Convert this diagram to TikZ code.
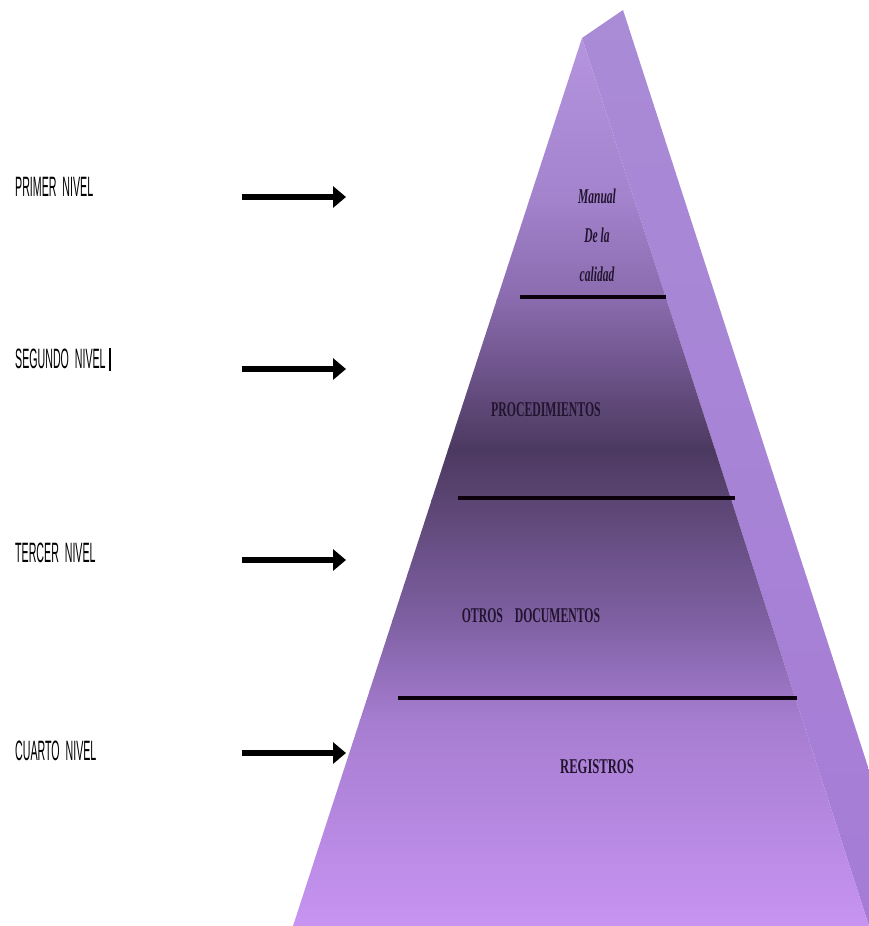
\documentclass[tikz,border=0pt]{standalone}
\usepackage{fontspec}
\setmainfont{Liberation Serif}
\newfontfamily\labelfont{Liberation Sans}
\usetikzlibrary{arrows.meta}

\definecolor{faceA}{HTML}{B795E0}
\definecolor{faceB}{HTML}{A283CC}
\definecolor{faceC}{HTML}{8A6BAE}
\definecolor{faceD}{HTML}{4C3960}
\definecolor{faceE}{HTML}{5B4573}
\definecolor{faceF}{HTML}{7E60A2}
\definecolor{faceG}{HTML}{A67DD0}
\definecolor{faceH}{HTML}{C794F2}
\definecolor{sideTop}{HTML}{A98BD6}
\definecolor{sideBot}{HTML}{A67CD6}
\definecolor{inktext}{HTML}{22142F}

\tikzset{
  levellabel/.style={anchor=west, inner sep=0pt, font=\labelfont\fontsize{28}{28}\selectfont},
  levelarrow/.style={line width=6pt, -{Triangle[length=13pt,width=21pt]}},
  divider/.style={line width=3.4pt, draw=black!90!violet},
  bandtext/.style={inner sep=0pt, text=inktext, font=\bfseries\fontsize{21}{21}\selectfont},
  manualtext/.style={inner sep=0pt, text=inktext, font=\bfseries\itshape\fontsize{21}{21}\selectfont}
}

\newcommand{\squeeze}[2]{\scalebox{#1}[1]{#2}}

\begin{document}
\begin{tikzpicture}[x=1pt,y=-1pt]
  \useasboundingbox (0,0) rectangle (869,926);
  \fill[white] (0,0) rectangle (869,926);

  % pyramid corners
  \coordinate (apex) at (582,38);
  \coordinate (backapex) at (623,10);
  \coordinate (bl) at (293,926);
  \coordinate (br) at (869,926);
  \coordinate (sideedge) at (869,770);

  % right (back) face
  \shade[top color=sideTop, bottom color=sideBot]
    (apex) -- (backapex) -- (sideedge) -- (br) -- cycle;

  % front face, shaded in bands
  \begin{scope}
    \clip (apex) -- (br) -- (bl) -- cycle;
    \shade[top color=faceA, bottom color=faceB] (280,30) rectangle (880,200);
    \shade[top color=faceB, bottom color=faceC] (280,199.5) rectangle (880,300);
    \shade[top color=faceC, bottom color=faceD] (280,299.5) rectangle (880,450);
    \shade[top color=faceD, bottom color=faceE] (280,449.5) rectangle (880,500);
    \shade[top color=faceE, bottom color=faceF] (280,499.5) rectangle (880,620);
    \shade[top color=faceF, bottom color=faceG] (280,619.5) rectangle (880,720);
    \shade[top color=faceG, bottom color=faceH] (280,719.5) rectangle (880,930);
  \end{scope}

  % dividing lines between levels
  \coordinate (d1l) at (520,297);  \coordinate (d1r) at (666,297);
  \coordinate (d2l) at (458,498);  \coordinate (d2r) at (735,498);
  \coordinate (d3l) at (398,698);  \coordinate (d3r) at (797,698);
  \draw[divider] (d1l) -- (d1r);
  \draw[divider] (d2l) -- (d2r);
  \draw[divider] (d3l) -- (d3r);

  % texts inside the pyramid
  \node[manualtext] (m1) at (597,196) {\squeeze{0.55}{Manual}};
  \node[manualtext] (m2) at (597,235) {\squeeze{0.55}{De la}};
  \node[manualtext] (m3) at (597,274) {\squeeze{0.55}{calidad}};
  \node[bandtext] (proc) at (546,410) {\squeeze{0.56}{PROCEDIMIENTOS}};
  \node[bandtext] (otros) at (531,616) {\squeeze{0.56}{OTROS\quad DOCUMENTOS}};
  \node[bandtext] (reg) at (597,767) {\squeeze{0.6}{REGISTROS}};

  % level names on the left
  \node[levellabel] (n1) at (15,187) {\squeeze{0.38}{PRIMER\ \ NIVEL}};
  \node[levellabel] (n2) at (15,359) {\squeeze{0.38}{SEGUNDO\ \ NIVEL}};
  \node[levellabel] (n3) at (15,553) {\squeeze{0.38}{TERCER\ \ NIVEL}};
  \node[levellabel] (n4) at (15,751) {\squeeze{0.38}{CUARTO\ \ NIVEL}};
  \fill[black] ([xshift=3pt]n2.east |- 0,348) rectangle ([xshift=5.5pt]n2.east |- 0,371);

  % arrows pointing at the levels
  \coordinate (s1) at (242,197); \coordinate (e1) at (346,197);
  \coordinate (s2) at (242,369); \coordinate (e2) at (346,369);
  \coordinate (s3) at (242,560); \coordinate (e3) at (346,560);
  \coordinate (s4) at (242,753); \coordinate (e4) at (346,753);
  \draw[levelarrow] (s1) -- (e1);
  \draw[levelarrow] (s2) -- (e2);
  \draw[levelarrow] (s3) -- (e3);
  \draw[levelarrow] (s4) -- (e4);
\end{tikzpicture}
\end{document}
